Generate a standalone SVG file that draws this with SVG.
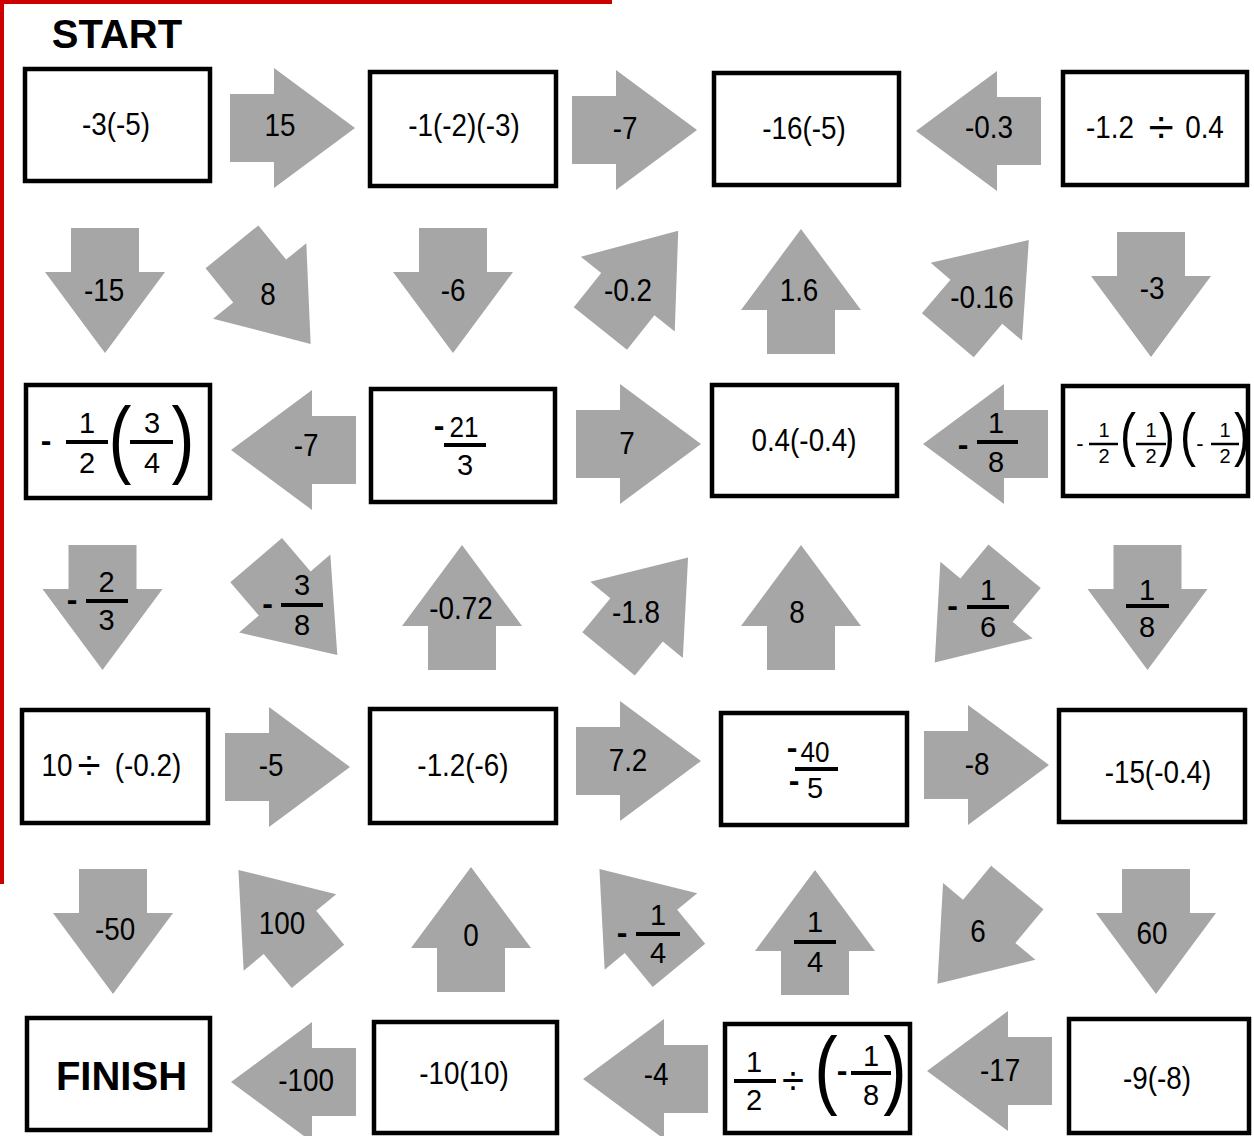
<svg xmlns="http://www.w3.org/2000/svg" xmlns:xlink="http://www.w3.org/1999/xlink" width="1254" height="1136" viewBox="0 0 1254 1136">
<style>
.box{fill:#fff;stroke:#000;stroke-width:4.5}
.arr{fill:#a6a6a6}
text{font-family:"Liberation Sans",Arial,sans-serif;font-size:32px;text-anchor:middle;fill:#000}
.f{font-size:29px}
.s{font-size:20px}
.hd{font-weight:bold;font-size:40px}
.mn{font-weight:bold;font-size:32px}
.mns{font-size:22px}
.bar{stroke:#000;stroke-width:4}
.bar2{stroke:#000;stroke-width:2.5}
</style>
<defs>
<path id="arw" class="arr" d="M-62,-34 H-18 V-60 L63,0 L-18,60 V34 H-62 Z"/>
</defs>
<rect x="0" y="0" width="612" height="4" fill="#cc0000"/>
<rect x="0" y="0" width="4" height="884" fill="#cc0000"/>
<text class="hd" x="117" y="48">START</text>

<g id="connectors">
<g id="a-15"><use xlink:href="#arw" href="#arw" transform="translate(292,128)"/><text transform="translate(280 136) scale(.87 1)">15</text></g>
<g id="a-m7a"><use xlink:href="#arw" href="#arw" transform="translate(634,130)"/><text transform="translate(625 139) scale(.87 1)">-7</text></g>
<g id="a-m03"><use xlink:href="#arw" href="#arw" transform="translate(979,131) rotate(180)"/><text transform="translate(989 138) scale(.87 1)">-0.3</text></g>

<g id="a-m15"><use xlink:href="#arw" href="#arw" transform="translate(105,290) rotate(90)"/><text transform="translate(104 301) scale(.87 1)">-15</text></g>
<g id="a-8a"><use xlink:href="#arw" href="#arw" transform="translate(271,295) rotate(51)"/><text transform="translate(268 305) scale(.87 1)">8</text></g>
<g id="a-m6"><use xlink:href="#arw" href="#arw" transform="translate(453,290) rotate(90)"/><text transform="translate(453 301) scale(.87 1)">-6</text></g>
<g id="a-m02"><use xlink:href="#arw" href="#arw" transform="translate(639,280) rotate(-51.5)"/><text transform="translate(628 301) scale(.87 1)">-0.2</text></g>
<g id="a-16"><use xlink:href="#arw" href="#arw" transform="translate(801,292) rotate(-90)"/><text transform="translate(799 301) scale(.87 1)">1.6</text></g>
<g id="a-m016"><use xlink:href="#arw" href="#arw" transform="translate(988,288) rotate(-49.6)"/><text transform="translate(982 308) scale(.87 1)">-0.16</text></g>
<g id="a-m3"><use xlink:href="#arw" href="#arw" transform="translate(1151,294) rotate(90)"/><text transform="translate(1152 299) scale(.87 1)">-3</text></g>

<g id="a-m7b"><use xlink:href="#arw" href="#arw" transform="translate(294,450) rotate(180)"/><text transform="translate(306 456) scale(.87 1)">-7</text></g>
<g id="a-7"><use xlink:href="#arw" href="#arw" transform="translate(638,444)"/><text transform="translate(627 454) scale(.87 1)">7</text></g>
<g id="a-m1o8"><use xlink:href="#arw" href="#arw" transform="translate(986,444) rotate(180)"/>
<text class="mn" x="963" y="455">-</text><text class="f" x="996" y="433">1</text><line class="bar" x1="977" y1="442" x2="1018" y2="442"/><text class="f" x="996" y="472">8</text></g>

<g id="a-m2o3"><use xlink:href="#arw" href="#arw" transform="translate(102.5,607) rotate(90)"/>
<text class="mn" x="72" y="610">-</text><text class="f" x="106.5" y="592">2</text><line class="bar" x1="86" y1="601" x2="128" y2="601"/><text class="f" x="106.5" y="630">3</text></g>
<g id="a-m3o8"><use xlink:href="#arw" href="#arw" transform="translate(296.4,607.2) rotate(49.5)"/>
<text class="mn" x="267.5" y="614">-</text><text class="f" x="302" y="595">3</text><line class="bar" x1="281" y1="605" x2="323" y2="605"/><text class="f" x="302" y="635">8</text></g>
<g id="a-m072"><use xlink:href="#arw" href="#arw" transform="translate(462,608) rotate(-90)"/><text transform="translate(461 619) scale(.87 1)">-0.72</text></g>
<g id="a-m18"><use xlink:href="#arw" href="#arw" transform="translate(648,606) rotate(-50.5)"/><text transform="translate(636 623) scale(.87 1)">-1.8</text></g>
<g id="a-8b"><use xlink:href="#arw" href="#arw" transform="translate(801,608) rotate(-90)"/><text transform="translate(797 623) scale(.87 1)">8</text></g>
<g id="a-m1o6"><use xlink:href="#arw" href="#arw" transform="translate(975,614) rotate(129.7)"/>
<text class="mn" x="952.5" y="616">-</text><text class="f" x="988" y="600">1</text><line class="bar" x1="967" y1="607" x2="1009" y2="607"/><text class="f" x="988" y="637">6</text></g>
<g id="a-1o8"><use xlink:href="#arw" href="#arw" transform="translate(1147.5,607) rotate(90)"/>
<text class="f" x="1147" y="600">1</text><line class="bar" x1="1126" y1="606" x2="1169" y2="606"/><text class="f" x="1147" y="637">8</text></g>

<g id="a-m5"><use xlink:href="#arw" href="#arw" transform="translate(287,767)"/><text transform="translate(271 776) scale(.87 1)">-5</text></g>
<g id="a-72"><use xlink:href="#arw" href="#arw" transform="translate(638,761)"/><text transform="translate(628 771) scale(.87 1)">7.2</text></g>
<g id="a-m8"><use xlink:href="#arw" href="#arw" transform="translate(986,765)"/><text transform="translate(977 775) scale(.87 1)">-8</text></g>

<g id="a-m50"><use xlink:href="#arw" href="#arw" transform="translate(113,931) rotate(90)"/><text transform="translate(115 940) scale(.87 1)">-50</text></g>
<g id="a-100"><use xlink:href="#arw" href="#arw" transform="translate(278.5,918.6) rotate(-129.5)"/><text transform="translate(282 934) scale(.87 1)">100</text></g>
<g id="a-0"><use xlink:href="#arw" href="#arw" transform="translate(471,930) rotate(-90)"/><text transform="translate(471 946) scale(.87 1)">0</text></g>
<g id="a-m1o4"><use xlink:href="#arw" href="#arw" transform="translate(639.5,917.6) rotate(-129.5)"/>
<text class="mn" x="622" y="943">-</text><text class="f" x="658" y="925">1</text><line class="bar" x1="636" y1="934" x2="680" y2="934"/><text class="f" x="658" y="963">4</text></g>
<g id="a-1o4"><use xlink:href="#arw" href="#arw" transform="translate(815,933) rotate(-90)"/>
<text class="f" x="815" y="932">1</text><line class="bar" x1="794" y1="942" x2="836" y2="942"/><text class="f" x="815" y="972">4</text></g>
<g id="a-6"><use xlink:href="#arw" href="#arw" transform="translate(977.7,935.2) rotate(129.7)"/><text transform="translate(978 942) scale(.87 1)">6</text></g>
<g id="a-60"><use xlink:href="#arw" href="#arw" transform="translate(1156,931) rotate(90)"/><text transform="translate(1152 944) scale(.87 1)">60</text></g>

<g id="a-m100"><use xlink:href="#arw" href="#arw" transform="translate(294,1082) rotate(180)"/><text transform="translate(306 1091) scale(.87 1)">-100</text></g>
<g id="a-m4"><use xlink:href="#arw" href="#arw" transform="translate(646,1079) rotate(180)"/><text transform="translate(656 1085) scale(.87 1)">-4</text></g>
<g id="a-m17"><use xlink:href="#arw" href="#arw" transform="translate(990,1071) rotate(180)"/><text transform="translate(1000 1081) scale(.87 1)">-17</text></g>
</g>

<g id="box1"><rect class="box" x="25" y="69" width="185" height="112"/><text transform="translate(116 135) scale(.87 1)">-3(-5)</text></g>
<g id="box2"><rect class="box" x="370" y="72" width="186" height="114"/><text transform="translate(464 136) scale(.87 1)">-1(-2)(-3)</text></g>
<g id="box3"><rect class="box" x="714" y="73" width="185" height="112"/><text transform="translate(804 139) scale(.87 1)">-16(-5)</text></g>
<g id="box4"><rect class="box" x="1063" y="72" width="184" height="113"/><text transform="translate(1110 138) scale(.87 1)">-1.2</text><text x="1161" y="143" style="font-size:46px">÷</text><text transform="translate(1204.5 138) scale(.87 1)">0.4</text></g>

<g id="box5"><rect class="box" x="26" y="385" width="184" height="113"/>
<text class="mn" x="46" y="451">-</text>
<text class="f" x="87" y="433">1</text><line class="bar" x1="66" y1="442" x2="108" y2="442"/><text class="f" x="87" y="473">2</text>
<text transform="translate(120 467) scale(.8 1)" style="font-size:86px">(</text>
<text class="f" x="152" y="433">3</text><line class="bar" x1="130" y1="442" x2="173" y2="442"/><text class="f" x="152" y="473">4</text>
<text transform="translate(183 467) scale(.8 1)" style="font-size:86px">)</text></g>

<g id="box6"><rect class="box" x="371" y="389" width="184" height="113"/>
<text class="mn" x="439" y="436">-</text><text class="f" transform="translate(464 437) scale(.9 1)">21</text>
<line class="bar" x1="444" y1="445" x2="486" y2="445"/><text class="f" x="465" y="475">3</text></g>

<g id="box7"><rect class="box" x="712" y="385" width="185" height="111"/><text transform="translate(804 451) scale(.87 1)">0.4(-0.4)</text></g>

<g id="box8"><rect class="box" x="1063" y="386" width="185" height="110"/>
<text class="mns" x="1080" y="451">-</text>
<text class="s" x="1104" y="437">1</text><line class="bar2" x1="1089" y1="444" x2="1118" y2="444"/><text class="s" x="1104" y="463">2</text>
<text transform="translate(1128 455) scale(.8 1)" style="font-size:60px">(</text>
<text class="s" x="1151" y="437">1</text><line class="bar2" x1="1136" y1="444" x2="1166" y2="444"/><text class="s" x="1151" y="463">2</text>
<text transform="translate(1167 455) scale(.8 1)" style="font-size:60px">)</text>
<text transform="translate(1188 455) scale(.8 1)" style="font-size:60px">(</text>
<text class="mns" x="1200" y="451">-</text>
<text class="s" x="1225" y="437">1</text><line class="bar2" x1="1211" y1="444" x2="1239" y2="444"/><text class="s" x="1225" y="463">2</text>
<text transform="translate(1242 455) scale(.8 1)" style="font-size:60px">)</text></g>

<g id="box9"><rect class="box" x="22" y="710" width="186" height="113"/><text transform="translate(57 776) scale(.87 1)">10</text><text x="89" y="780" style="font-size:42px">÷</text><text transform="translate(148 776) scale(.87 1)">(-0.2)</text></g>
<g id="box10"><rect class="box" x="370" y="709" width="186" height="114"/><text transform="translate(463 776) scale(.87 1)">-1.2(-6)</text></g>
<g id="box11"><rect class="box" x="721" y="713" width="186" height="112"/>
<text class="mn" x="792" y="758">-</text><text class="f" transform="translate(815 762) scale(.9 1)">40</text>
<line class="bar" x1="795" y1="769" x2="838" y2="769"/>
<text class="mn" x="794" y="791">-</text><text class="f" x="815" y="798">5</text></g>
<g id="box12"><rect class="box" x="1059" y="710" width="186" height="112"/><text transform="translate(1158 783) scale(.87 1)">-15(-0.4)</text></g>

<g id="box13"><rect class="box" x="27" y="1018" width="183" height="112"/><text class="hd" x="121.5" y="1090">FINISH</text></g>
<g id="box14"><rect class="box" x="374" y="1022" width="183" height="111"/><text transform="translate(464 1084) scale(.87 1)">-10(10)</text></g>
<g id="box15"><rect class="box" x="725" y="1024" width="185" height="109"/>
<text class="f" x="754" y="1072">1</text><line class="bar" x1="734" y1="1081" x2="776" y2="1081"/><text class="f" x="754" y="1110">2</text>
<text x="793" y="1094" style="font-size:40px">÷</text>
<text transform="translate(826 1098) scale(.8 1)" style="font-size:88px">(</text>
<text class="mn" x="842" y="1081">-</text>
<text class="f" x="871" y="1066">1</text><line class="bar" x1="851" y1="1073" x2="891" y2="1073"/><text class="f" x="871" y="1105">8</text>
<text transform="translate(895 1098) scale(.8 1)" style="font-size:88px">)</text></g>
<g id="box16"><rect class="box" x="1069" y="1019" width="180" height="114"/><text transform="translate(1157 1089) scale(.87 1)">-9(-8)</text></g>
</svg>
